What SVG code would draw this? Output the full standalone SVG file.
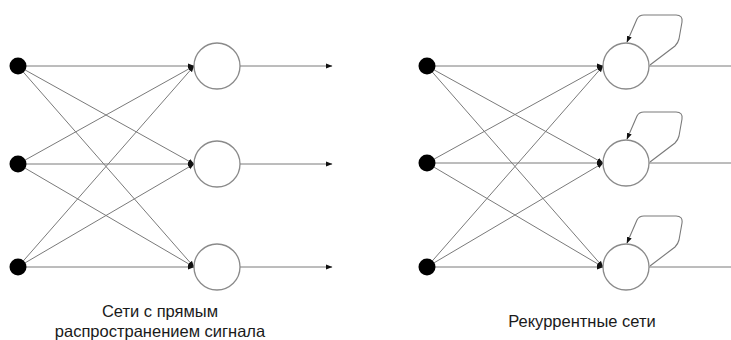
<svg xmlns="http://www.w3.org/2000/svg" width="731" height="340" viewBox="0 0 731 340">
<defs>
<marker id="ah" markerWidth="7" markerHeight="6" refX="6" refY="3" orient="auto" markerUnits="userSpaceOnUse">
<path d="M0,0.5 L6.5,3 L0,5.5 Z" fill="#111"/>
</marker>
<style>
.ln{stroke:#7a7a7a;stroke-width:1;fill:none}
.ar{marker-end:url(#ah)}
.nd{fill:#fff;stroke:#8a8a8a;stroke-width:1.3}
.in{fill:#000}
.lp{stroke:#7a7a7a;stroke-width:1.1;fill:none;marker-end:url(#ah)}
.tx{font-family:"Liberation Sans",Arial,sans-serif;font-size:16.5px;fill:#1a1a1a;text-anchor:middle}
</style>
</defs>
<rect width="731" height="340" fill="#fff"/>
<g id="connectors">
<!-- left network -->
<line class="ln ar" x1="18" y1="66" x2="194" y2="66"/>
<line class="ln ar" x1="18" y1="66" x2="194" y2="164"/>
<line class="ln ar" x1="18" y1="66" x2="194" y2="267"/>
<line class="ln ar" x1="18" y1="164" x2="194" y2="66"/>
<line class="ln ar" x1="18" y1="164" x2="194" y2="164"/>
<line class="ln ar" x1="18" y1="164" x2="194" y2="267"/>
<line class="ln ar" x1="18" y1="267" x2="194" y2="66"/>
<line class="ln ar" x1="18" y1="267" x2="194" y2="164"/>
<line class="ln ar" x1="18" y1="267" x2="194" y2="267"/>
<line class="ln ar" x1="240" y1="66" x2="332" y2="66"/>
<line class="ln ar" x1="240" y1="164" x2="332" y2="164"/>
<line class="ln ar" x1="240" y1="267" x2="332" y2="267"/>
<!-- right network -->
<line class="ln ar" x1="427" y1="66" x2="603" y2="66"/>
<line class="ln ar" x1="427" y1="66" x2="603" y2="163"/>
<line class="ln ar" x1="427" y1="66" x2="603" y2="267"/>
<line class="ln ar" x1="427" y1="163" x2="603" y2="66"/>
<line class="ln ar" x1="427" y1="163" x2="603" y2="163"/>
<line class="ln ar" x1="427" y1="163" x2="603" y2="267"/>
<line class="ln ar" x1="427" y1="267" x2="603" y2="66"/>
<line class="ln ar" x1="427" y1="267" x2="603" y2="163"/>
<line class="ln ar" x1="427" y1="267" x2="603" y2="267"/>
<line class="ln" x1="649" y1="66" x2="731" y2="66"/>
<line class="ln" x1="649" y1="163" x2="731" y2="163"/>
<line class="ln" x1="649" y1="267" x2="731" y2="267"/>
<!-- self loops -->
<path class="lp" transform="translate(626,66)" d="M24,-1 L49,-20 Q52,-23 53,-27 L56,-44 Q57,-51 50,-51 L18,-51 Q13,-51 11,-47 L1,-24"/>
<path class="lp" transform="translate(626,163)" d="M24,-1 L49,-20 Q52,-23 53,-27 L56,-44 Q57,-51 50,-51 L18,-51 Q13,-51 11,-47 L1,-24"/>
<path class="lp" transform="translate(626,267)" d="M24,-1 L49,-20 Q52,-23 53,-27 L56,-44 Q57,-51 50,-51 L18,-51 Q13,-51 11,-47 L1,-24"/>
</g>
<g id="in1"><circle class="in" cx="18" cy="66" r="8.5"/></g>
<g id="in2"><circle class="in" cx="18" cy="164" r="8.5"/></g>
<g id="in3"><circle class="in" cx="18" cy="267" r="8.5"/></g>
<g id="n1"><circle class="nd" cx="217" cy="66" r="23"/></g>
<g id="n2"><circle class="nd" cx="217" cy="164" r="23"/></g>
<g id="n3"><circle class="nd" cx="217" cy="267" r="23"/></g>
<g id="rin1"><circle class="in" cx="427" cy="66" r="8.5"/></g>
<g id="rin2"><circle class="in" cx="427" cy="163" r="8.5"/></g>
<g id="rin3"><circle class="in" cx="427" cy="267" r="8.5"/></g>
<g id="rn1"><circle class="nd" cx="626" cy="66" r="23"/></g>
<g id="rn2"><circle class="nd" cx="626" cy="163" r="23"/></g>
<g id="rn3"><circle class="nd" cx="626" cy="267" r="23"/></g>
<g id="caption-left">
<text class="tx" x="160" y="317">Сети с прямым</text>
<text class="tx" x="160" y="337">распространением сигнала</text>
</g>
<g id="caption-right">
<text class="tx" x="582" y="327">Рекуррентные сети</text>
</g>
</svg>
